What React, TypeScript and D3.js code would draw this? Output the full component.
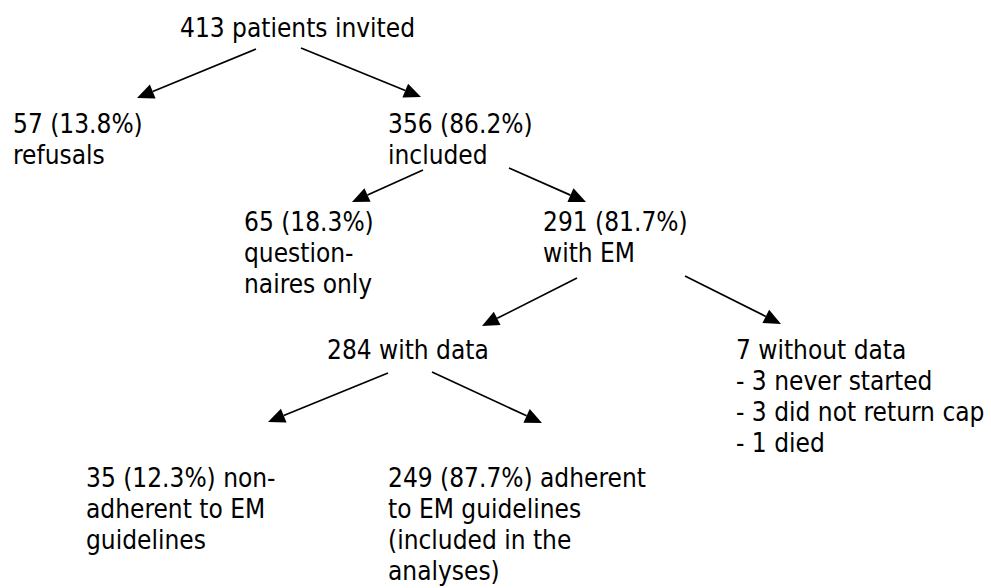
import React from "react";
import * as d3 from "d3";

// Flow diagram content: each box is a list of text lines
const boxLines: string[][] = [
  ["413 patients invited"],
  ["57 (13.8%)", "refusals"],
  ["356 (86.2%)", "included"],
  ["65 (18.3%)", "question-", "naires only"],
  ["291 (81.7%)", "with EM"],
  ["284 with data"],
  ["7 without data", "- 3 never started", "- 3 did not return cap", "- 1 died"],
  ["35 (12.3%) non-", "adherent to EM", "guidelines"],
  ["249 (87.7%) adherent", "to EM guidelines", "(included in the", "analyses)"],
];

// parent -> child links
const links: [number, number][] = [
  [0, 1],
  [0, 2],
  [2, 3],
  [2, 4],
  [4, 5],
  [4, 6],
  [5, 7],
  [5, 8],
];

// layout (left x, first baseline y) of each box
const boxPos: [number, number][] = [
  [180, 37],
  [13, 133],
  [388, 133],
  [244, 231],
  [543, 231],
  [327, 359],
  [736, 359],
  [86, 487],
  [388, 487],
];

// arrow start and tip for each link
const arrowPos: [number, number, number, number][] = [
  [256, 49, 137, 98],
  [301, 48, 421, 97],
  [423, 170, 352, 202],
  [509, 168, 586, 202],
  [577, 278, 482, 326],
  [685, 276, 781, 324],
  [388, 373, 268, 422],
  [432, 372, 542, 423],
];

const W = 991;
const H = 588;
const lineGap = 31;
const fontSize = 26;

function arrowHead(x1: number, y1: number, x2: number, y2: number) {
  const len = 17;
  const half = 7.5;
  const dx = x2 - x1;
  const dy = y2 - y1;
  const d = Math.hypot(dx, dy);
  const ux = dx / d;
  const uy = dy / d;
  const bx = x2 - ux * len;
  const by = y2 - uy * len;
  const path = d3.path();
  path.moveTo(x2, y2);
  path.lineTo(bx - uy * half, by + ux * half);
  path.lineTo(bx + uy * half, by - ux * half);
  path.closePath();
  return { bx, by, d: path.toString() };
}

export default function App() {
  return (
    <svg
      width={W}
      height={H}
      style={{ position: "absolute", left: 0, top: 0, background: "#fff" }}
    >
      <rect width={W} height={H} fill="#fff" />
      {links.map((lk, i) => {
        const [x1, y1, x2, y2] = arrowPos[i];
        const head = arrowHead(x1, y1, x2, y2);
        return (
          <g key={`a${i}`}>
            <line
              x1={x1}
              y1={y1}
              x2={head.bx}
              y2={head.by}
              stroke="#000"
              strokeWidth={1.7}
            />
            <path d={head.d} fill="#000" />
          </g>
        );
      })}
      {boxLines.map((lines, i) => (
        <text
          key={`t${i}`}
          x={boxPos[i][0]}
          y={boxPos[i][1]}
          fontFamily="'DejaVu Sans Condensed', 'DejaVu Sans', sans-serif"
          fontStretch="condensed"
          fontSize={fontSize}
          fill="#000"
        >
          {lines.map((ln, j) => (
            <tspan key={j} x={boxPos[i][0]} dy={j === 0 ? 0 : lineGap}>
              {ln}
            </tspan>
          ))}
        </text>
      ))}
    </svg>
  );
}
